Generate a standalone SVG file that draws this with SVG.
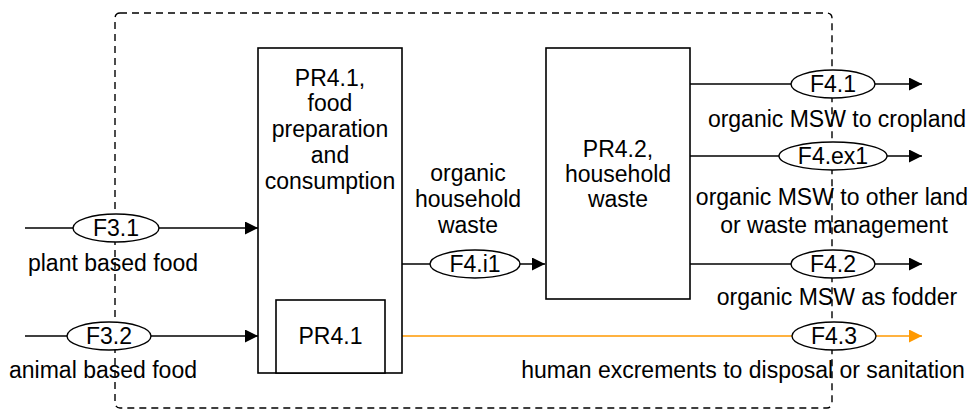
<svg xmlns="http://www.w3.org/2000/svg" width="969" height="410" viewBox="0 0 969 410">
<style>
text{font-family:"Liberation Sans",Arial,sans-serif;font-size:23px;fill:#000;text-anchor:middle}
.box{fill:#fff;stroke:#000;stroke-width:1.6}
.ell{fill:#fff;stroke:#000;stroke-width:1.4}
.ln{fill:none;stroke:#000;stroke-width:1.3}
.or{fill:none;stroke:#FF9900;stroke-width:1.4}
.dash{fill:none;stroke:#000;stroke-width:1.4;stroke-dasharray:7 5}
</style>
<defs>
<marker id="ab" viewBox="0 0 14 14" refX="14" refY="7" markerWidth="14" markerHeight="13" markerUnits="userSpaceOnUse" orient="auto"><path d="M0,0 L14,7 L0,14 z" fill="#000"/></marker>
<marker id="ao" viewBox="0 0 14 14" refX="14" refY="7" markerWidth="14" markerHeight="13" markerUnits="userSpaceOnUse" orient="auto"><path d="M0,0 L14,7 L0,14 z" fill="#FF9900"/></marker>
</defs>
<rect width="969" height="410" fill="#fff"/>
<rect id="boundary" class="dash" x="115" y="13" width="717" height="395" rx="5"/>
<g id="connectors">
<line class="ln" x1="25" y1="228" x2="258" y2="228" marker-end="url(#ab)"/>
<line class="ln" x1="25" y1="336" x2="258" y2="336" marker-end="url(#ab)"/>
<line class="ln" x1="402" y1="264" x2="545" y2="264" marker-end="url(#ab)"/>
<line class="ln" x1="690" y1="84" x2="922" y2="84" marker-end="url(#ab)"/>
<line class="ln" x1="690" y1="156" x2="922" y2="156" marker-end="url(#ab)"/>
<line class="ln" x1="690" y1="264" x2="922" y2="264" marker-end="url(#ab)"/>
<line class="or" x1="402" y1="336" x2="922" y2="336" marker-end="url(#ao)"/>
</g>
<g id="PR4.1">
<rect class="box" x="258" y="48" width="144" height="325"/>
<text x="330" y="86">PR4.1,</text>
<text x="330" y="111">food</text>
<text x="330" y="137">preparation</text>
<text x="330" y="163">and</text>
<text x="330" y="189">consumption</text>
</g>
<g id="PR4.1-inner">
<rect class="box" x="276" y="300" width="109" height="73"/>
<text x="330.5" y="344">PR4.1</text>
</g>
<g id="PR4.2">
<rect class="box" x="546" y="48" width="144" height="251"/>
<text x="618" y="157">PR4.2,</text>
<text x="618" y="182">household</text>
<text x="618" y="207">waste</text>
</g>
<g id="F3.1">
<ellipse class="ell" cx="116" cy="228" rx="43" ry="14"/>
<text x="116" y="236">F3.1</text>
<text x="113" y="271">plant based food</text>
</g>
<g id="F3.2">
<ellipse class="ell" cx="109" cy="336" rx="42" ry="14"/>
<text x="109" y="344">F3.2</text>
<text x="103" y="378">animal based food</text>
</g>
<g id="F4.i1">
<ellipse class="ell" cx="475" cy="264" rx="45" ry="14"/>
<text x="475" y="272">F4.i1</text>
<text x="468" y="181">organic</text>
<text x="468" y="207">household</text>
<text x="468" y="233">waste</text>
</g>
<g id="F4.1">
<ellipse class="ell" cx="833" cy="84" rx="42" ry="14"/>
<text x="833" y="92">F4.1</text>
<text x="837" y="127">organic MSW to cropland</text>
</g>
<g id="F4.ex1">
<ellipse class="ell" cx="833" cy="156" rx="54" ry="14"/>
<text x="833" y="164">F4.ex1</text>
<text x="832" y="205">organic MSW to other land</text>
<text x="834" y="233">or waste management</text>
</g>
<g id="F4.2">
<ellipse class="ell" cx="833" cy="264" rx="42" ry="14"/>
<text x="833" y="272">F4.2</text>
<text x="837" y="305">organic MSW as fodder</text>
</g>
<g id="F4.3">
<ellipse class="ell" cx="834" cy="336" rx="42" ry="14"/>
<text x="834" y="344">F4.3</text>
<text x="743" y="378">human excrements to disposal or sanitation</text>
</g>
</svg>
